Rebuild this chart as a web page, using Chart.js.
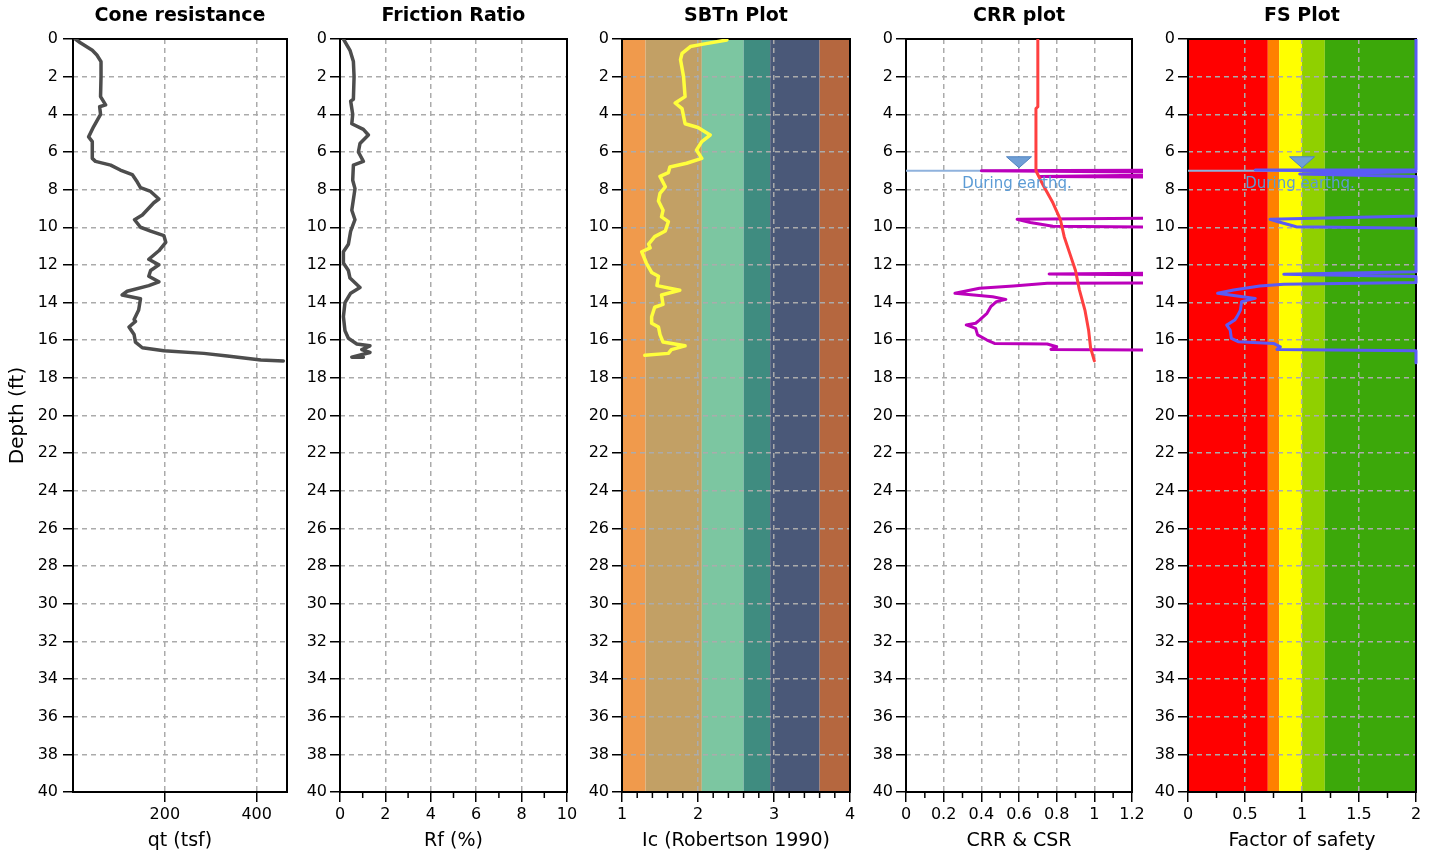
<!DOCTYPE html>
<html>
<head>
<meta charset="utf-8">
<title>CPT liquefaction plots</title>
<script src="https://cdn.jsdelivr.net/npm/chart.js@4.4.1/dist/chart.umd.min.js"></script>
<style>
  html, body { margin: 0; padding: 0; background: #fff; }
  #wrap { position: relative; width: 1431px; height: 857px; overflow: hidden; }
  .panel { position: absolute; top: 0; height: 857px; }
</style>
</head>
<body>
<div id="wrap">
  <div class="panel" style="left:0px;width:307px"><canvas id="chartQt"></canvas></div>
  <div class="panel" style="left:280px;width:307px"><canvas id="chartRf"></canvas></div>
  <div class="panel" style="left:562px;width:308px"><canvas id="chartIc"></canvas></div>
  <div class="panel" style="left:846px;width:306px"><canvas id="chartCrr"></canvas></div>
  <div class="panel" style="left:1128px;width:303px"><canvas id="chartFs"></canvas></div>
</div>
<script>
/* =====================================================
   DATA
===================================================== */
const DEPTH_TICKS = [0, 2, 4, 6, 8, 10, 12, 14, 16, 18, 20, 22, 24, 26, 28, 30, 32, 34, 36, 38, 40];

// Cone resistance
const QT_DEPTH = [0, 0.2, 0.6, 0.85, 1.2, 2.0, 3.06, 3.5, 3.6, 4.0, 4.65, 5.2, 5.45, 6.34, 6.5, 6.7, 6.96, 7.2, 7.6, 7.9, 8.1, 8.5, 8.7, 9.35, 9.6, 10.0, 10.2, 10.45, 10.8, 11.25, 11.7, 12.0, 12.3, 12.6, 12.9, 13.1, 13.4, 13.6, 13.8, 14.4, 14.9, 15.0, 15.3, 15.7, 16.1, 16.4, 16.56, 16.7, 16.84, 17.05, 17.1];
const QT_VALUES = [5, 16, 42, 52, 61, 61, 60, 71, 58, 60, 45, 34, 42, 42, 49, 82, 103, 129, 140, 147, 169, 187, 176, 151, 134, 147, 169, 198, 202, 187, 165, 187, 169, 165, 187, 165, 118, 107, 147, 143, 133, 136, 122, 133, 136, 151, 198, 285, 336, 409, 458];
const QT_TICKS = [200, 400];

// Friction ratio
const RF_DEPTH = [0, 0.6, 1.2, 2.0, 3.2, 3.3, 4.0, 4.5, 4.8, 5.1, 5.55, 6.0, 6.5, 6.7, 7.5, 7.95, 9.1, 9.6, 10.2, 10.9, 11.3, 11.9, 12.3, 12.7, 13.2, 13.5, 14.0, 14.75, 15.5, 15.9, 16.2, 16.3, 16.5, 16.65, 16.9, 16.9];
const RF_VALUES = [0.15, 0.44, 0.59, 0.62, 0.59, 0.47, 0.56, 0.52, 1.03, 1.25, 0.88, 0.81, 1.03, 0.59, 0.56, 0.66, 0.52, 0.66, 0.47, 0.37, 0.15, 0.15, 0.37, 0.44, 0.88, 0.47, 0.22, 0.15, 0.22, 0.37, 0.74, 1.32, 0.96, 1.32, 0.52, 1.03];
const RF_TICKS = [0, 2, 4, 6, 8, 10];
const RF_MINOR = [1, 3, 5, 7, 9];

// SBTn index
const IC_DEPTH = [0.05, 0.3, 0.4, 0.76, 1.1, 2.0, 3.06, 3.4, 3.7, 4.5, 4.7, 5.1, 5.45, 5.9, 6.34, 6.6, 6.8, 7.1, 7.3, 7.85, 8.2, 8.6, 9.1, 9.45, 9.7, 10.2, 10.5, 10.9, 11.1, 11.3, 11.9, 12.4, 12.6, 13.1, 13.35, 13.6, 14.1, 14.25, 14.75, 15.1, 15.3, 15.7, 16.1, 16.3, 16.5, 16.7, 16.8];
const IC_VALUES = [2.38, 2.03, 1.90, 1.79, 1.77, 1.81, 1.83, 1.70, 1.79, 1.83, 2.00, 2.16, 2.05, 1.98, 2.05, 1.85, 1.63, 1.61, 1.50, 1.57, 1.50, 1.48, 1.54, 1.52, 1.61, 1.57, 1.43, 1.35, 1.37, 1.26, 1.32, 1.39, 1.48, 1.46, 1.76, 1.52, 1.54, 1.43, 1.39, 1.39, 1.48, 1.50, 1.54, 1.83, 1.65, 1.61, 1.30];
const IC_TICKS = [1, 2, 3, 4];
const IC_MINOR = [1.2, 1.4, 1.6, 1.8, 2.2, 2.4, 2.6, 2.8, 3.2, 3.4, 3.6, 3.8];
const IC_ZONE_EDGES = [1, 1.31, 2.05, 2.6, 2.95, 3.6, 4];
const IC_ZONE_COLORS = ["#F09A4C", "#C2A065", "#7CC6A1", "#3F8C80", "#4A5878", "#B5673F"];

// CSR / CRR
const CSR_DEPTH = [0, 3.6, 3.7, 7.0, 7.2, 7.8, 8.7, 9.6, 10.5, 11.4, 12.3, 13.3, 14.4, 15.5, 16.4, 17.1];
const CSR_VALUES = [0.70, 0.70, 0.69, 0.69, 0.70, 0.73, 0.78, 0.82, 0.84, 0.87, 0.90, 0.92, 0.95, 0.97, 0.98, 1.0];
const CRR_DEPTH = [0, 6.95, 7.0, 7.12, 7.16, 7.3, 7.38, 9.45, 9.58, 9.75, 9.95, 10.05, 12.38, 12.48, 12.6, 12.95, 12.98, 13.12, 13.24, 13.51, 13.6, 13.69, 13.83, 13.95, 14.22, 14.57, 14.93, 15.1, 15.19, 15.37, 15.72, 15.99, 16.17, 16.2, 16.35, 16.49, 16.56, 17.1];
const CRR_VALUES = [2, 2, 0.40, 2, 2, 0.71, 2, 2, 0.59, 0.66, 0.78, 2, 2, 0.76, 2, 2, 0.75, 0.57, 0.39, 0.26, 0.36, 0.46, 0.53, 0.48, 0.45, 0.43, 0.39, 0.37, 0.32, 0.37, 0.38, 0.43, 0.47, 0.75, 0.80, 0.77, 2, 2];
const CRR_TICKS = [0, 0.2, 0.4, 0.6, 0.8, 1, 1.2];
const CRR_MINOR = [0.1, 0.3, 0.5, 0.7, 0.9, 1.1];

// Factor of safety
const FS_DEPTH = [0, 6.95, 6.96, 7.05, 7.17, 7.3, 9.4, 9.58, 9.71, 9.97, 10.05, 12.36, 12.5, 12.62, 12.94, 13.03, 13.12, 13.33, 13.51, 13.6, 13.78, 13.95, 14.4, 14.75, 14.93, 15.2, 15.46, 15.9, 16.08, 16.17, 16.35, 16.49, 16.56, 17.2];
const FS_VALUES = [2, 2, 0.59, 2, 0.98, 2, 2, 0.72, 0.79, 0.95, 2, 2, 0.84, 2, 2, 0.84, 0.63, 0.40, 0.26, 0.37, 0.59, 0.47, 0.46, 0.43, 0.41, 0.34, 0.37, 0.38, 0.44, 0.75, 0.81, 0.78, 2, 2];
const FS_TICKS = [0, 0.5, 1, 1.5, 2];
const FS_MINOR = [0.25, 0.75, 1.25, 1.75];
const FS_ZONE_EDGES = [0, 0.7, 0.8, 1.0, 1.2, 2];
const FS_ZONE_COLORS = ["#FF0000", "#FF8000", "#FFFF00", "#90D000", "#3CA80A"];

// Water table during earthquake
const WATER_DEPTH = 7.0;
const WATER_LABEL = "During earthq.";
const CRR_WATER_MARK = 0.6;
const FS_WATER_MARK = 1.0;

Chart.defaults.font.family = "'DejaVu Sans', Verdana, sans-serif";
Chart.defaults.color = "#000";

/* =====================================================
   PLUGIN: zone bands, plot frame, minor ticks, water mark
===================================================== */
Chart.register({
    id: "cptDecor",
    beforeDraw(chart, args, opts) {
        if (!opts.zoneEdges) return;
        const { ctx, chartArea: a, scales: { x } } = chart;
        ctx.save();
        opts.zoneColors.forEach((c, i) => {
            const x0 = x.getPixelForValue(opts.zoneEdges[i]);
            const x1 = x.getPixelForValue(opts.zoneEdges[i + 1]);
            ctx.fillStyle = c;
            ctx.fillRect(x0, a.top, x1 - x0, a.bottom - a.top);
        });
        ctx.restore();
    },
    beforeDatasetsDraw(chart, args, opts) {
        const { ctx, chartArea: a, scales: { x } } = chart;
        ctx.save();
        ctx.strokeStyle = "#000";
        ctx.lineWidth = 2;
        ctx.strokeRect(a.left, a.top, a.right - a.left, a.bottom - a.top);
        ctx.lineWidth = 1.5;
        (opts.minor || []).forEach(v => {
            const px = x.getPixelForValue(v);
            ctx.beginPath();
            ctx.moveTo(px, a.bottom);
            ctx.lineTo(px, a.bottom + 6);
            ctx.stroke();
        });
        ctx.restore();
    },
    afterDatasetsDraw(chart, args, opts) {
        if (opts.markX === undefined) return;
        const { ctx, scales: { x, y } } = chart;
        const px = x.getPixelForValue(opts.markX);
        const py = y.getPixelForValue(WATER_DEPTH);
        ctx.save();
        ctx.beginPath();
        ctx.moveTo(px - 12.5, py - 14);
        ctx.lineTo(px + 12.5, py - 14);
        ctx.lineTo(px, py - 3);
        ctx.closePath();
        ctx.fillStyle = "#6F9FD6";
        ctx.fill();
        ctx.strokeStyle = "#4F83C0";
        ctx.lineWidth = 1;
        ctx.stroke();
        ctx.fillStyle = "#5B9BD5";
        ctx.font = "15px 'DejaVu Sans'";
        ctx.textAlign = "center";
        ctx.textBaseline = "middle";
        ctx.fillText(WATER_LABEL, px - 2, py + 13);
        ctx.restore();
    }
});

/* =====================================================
   HELPERS
===================================================== */
function toPoints(depths, values) {
    return depths.map((d, i) => ({ x: values[i], y: d }));
}

function fixedTicks(values) {
    return scale => { scale.ticks = values.map(v => ({ value: v })); };
}

function curve(depths, values, color, extra) {
    return Object.assign({
        data: toPoints(depths, values),
        showLine: true,
        borderColor: color,
        borderWidth: 3.5,
        pointRadius: 0,
        tension: 0,
        borderJoinStyle: "round",
        borderCapStyle: "round"
    }, extra || {});
}

function waterLine(xMin, xMax) {
    return {
        data: [{ x: xMin, y: WATER_DEPTH }, { x: xMax, y: WATER_DEPTH }],
        showLine: true,
        borderColor: "#8FB2DD",
        borderWidth: 2,
        pointRadius: 0
    };
}

const gridOpts = { color: "#ABABAB", lineWidth: 1.5, tickColor: "#000", tickLength: 10, tickWidth: 1.5 };

function buildPanel(canvasId, p) {
    return new Chart(document.getElementById(canvasId), {
        type: "scatter",
        data: { datasets: p.datasets },
        options: {
            responsive: true,
            maintainAspectRatio: false,
            animation: false,
            layout: { padding: { left: 0, right: p.padRight, top: 0, bottom: 0 } },
            plugins: {
                legend: { display: false },
                tooltip: { enabled: false },
                title: {
                    display: true, text: p.title, fullSize: false, color: "#000",
                    font: { size: 19, weight: "bold" }, padding: { top: 5, bottom: 11.2 }
                },
                cptDecor: { minor: p.minor, zoneEdges: p.zoneEdges, zoneColors: p.zoneColors, markX: p.markX }
            },
            scales: {
                x: {
                    type: "linear", min: p.xMin, max: p.xMax,
                    afterBuildTicks: fixedTicks(p.xTicks),
                    afterFit: s => { s.height = 65; },
                    ticks: {
                        font: { size: 16 }, color: "#000", padding: 3, maxRotation: 0, autoSkip: false,
                        callback: v => String(+Number(v).toFixed(2))
                    },
                    grid: gridOpts,
                    border: { display: false, dash: [5, 4] },
                    title: { display: true, text: p.xTitle, color: "#000", font: { size: 19 }, padding: { top: 5, bottom: 5 } }
                },
                y: {
                    type: "linear", reverse: true, min: 0, max: 40,
                    afterBuildTicks: fixedTicks(DEPTH_TICKS),
                    afterFit: s => { s.width = p.yWidth; },
                    ticks: { font: { size: 16 }, color: "#000", padding: p.yPad, autoSkip: false },
                    grid: gridOpts,
                    border: { display: false, dash: [5, 4] },
                    title: { display: !!p.yTitle, text: p.yTitle || "", color: "#000", font: { size: 20 }, padding: { top: 6, bottom: 0 } }
                }
            }
        }
    });
}

/* =====================================================
   PANELS
===================================================== */
buildPanel("chartQt", {
    title: "Cone resistance", xTitle: "qt (tsf)", yTitle: "Depth (ft)",
    xMin: 0, xMax: 466, xTicks: QT_TICKS, yWidth: 73, yPad: 5, padRight: 20,
    datasets: [curve(QT_DEPTH, QT_VALUES, "#4D4D4D")]
});

buildPanel("chartRf", {
    title: "Friction Ratio", xTitle: "Rf (%)",
    xMin: 0, xMax: 10, xTicks: RF_TICKS, minor: RF_MINOR, yWidth: 60, yPad: 3, padRight: 20,
    datasets: [curve(RF_DEPTH, RF_VALUES, "#4D4D4D")]
});

buildPanel("chartIc", {
    title: "SBTn Plot", xTitle: "Ic (Robertson 1990)",
    xMin: 1, xMax: 4, xTicks: IC_TICKS, minor: IC_MINOR, yWidth: 60, yPad: 3, padRight: 20,
    zoneEdges: IC_ZONE_EDGES, zoneColors: IC_ZONE_COLORS,
    datasets: [curve(IC_DEPTH, IC_VALUES, "#FFFF3C")]
});

buildPanel("chartCrr", {
    title: "CRR plot", xTitle: "CRR & CSR",
    xMin: 0, xMax: 1.2, xTicks: CRR_TICKS, minor: CRR_MINOR, yWidth: 60, yPad: 3, padRight: 20,
    markX: CRR_WATER_MARK,
    datasets: [
        curve(CSR_DEPTH, CSR_VALUES, "#FF4040", { borderWidth: 3 }),
        curve(CRR_DEPTH, CRR_VALUES, "#BB00BB", { borderWidth: 3, clip: { left: 0, top: 0, right: 11, bottom: 0 } }),
        waterLine(0, 1.2)
    ]
});

buildPanel("chartFs", {
    title: "FS Plot", xTitle: "Factor of safety",
    xMin: 0, xMax: 2, xTicks: FS_TICKS, minor: FS_MINOR, yWidth: 60, yPad: 3, padRight: 15,
    zoneEdges: FS_ZONE_EDGES, zoneColors: FS_ZONE_COLORS, markX: FS_WATER_MARK,
    datasets: [
        curve(FS_DEPTH, FS_VALUES, "#5A5AF5", { borderWidth: 3, clip: { left: 0, top: 0, right: 3, bottom: 0 } }),
        waterLine(0, 2)
    ]
});
</script>
</body>
</html>
